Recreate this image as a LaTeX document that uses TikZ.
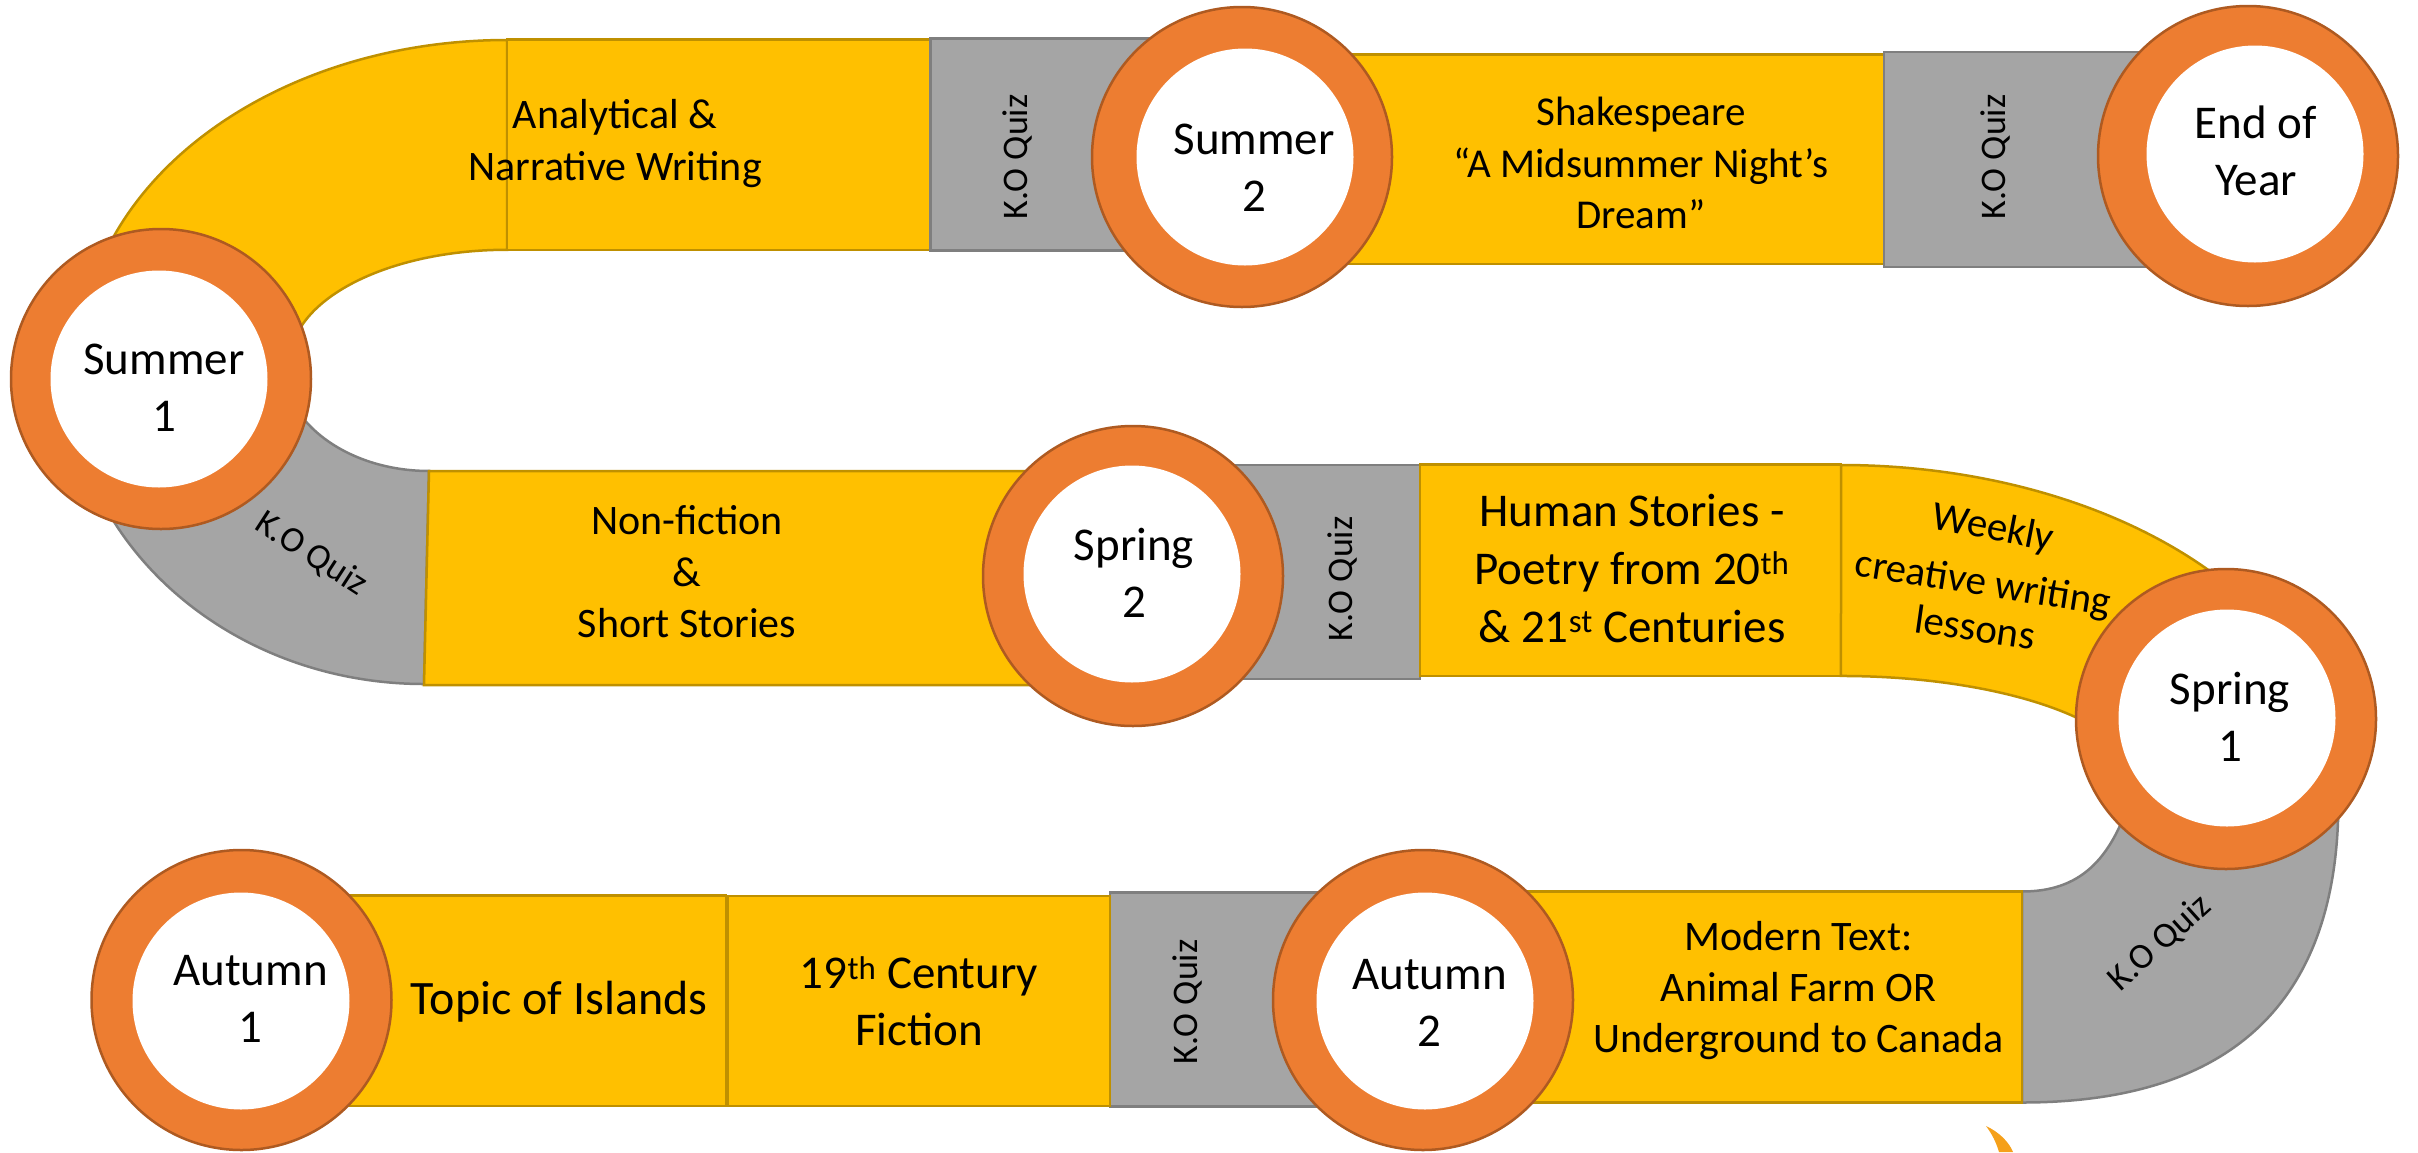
\documentclass[tikz,border=0pt]{standalone}
\usepackage{fontspec}
\setmainfont{Carlito}
\definecolor{yfill}{HTML}{FFC000}
\definecolor{yline}{HTML}{BF9000}
\definecolor{gfill}{HTML}{A5A5A5}
\definecolor{gline}{HTML}{7F7F7F}
\definecolor{ofill}{HTML}{ED7D31}
\definecolor{oline}{HTML}{AE5A21}
\definecolor{mark}{HTML}{F5A01A}
\begin{document}
\begin{tikzpicture}[x=1pt,y=-1pt,
  ybox/.style={fill=yfill,draw=yline,line width=2.5pt,line join=miter},
  gbox/.style={fill=gfill,draw=gline,line width=2.5pt,line join=miter},
  ring/.style={circle,fill=ofill,draw=oline,line width=2.5pt,minimum size=300pt,inner sep=0pt,outer sep=0pt},
  hole/.style={circle,fill=white,minimum size=217pt,inner sep=0pt,outer sep=0pt},
  stationtxt/.style={align=center,inner sep=0pt,font=\fontsize{47}{57}\selectfont},
  boxtxt/.style={align=center,inner sep=0pt,font=\fontsize{42}{51.5}\selectfont},
  bigtxt/.style={align=center,inner sep=0pt,font=\fontsize{47}{58}\selectfont},
  quiztxt/.style={inner sep=0pt,font=\fontsize{36}{43}\selectfont}]
\useasboundingbox (0,0) rectangle (2418,1152);

% ---------- top row ----------
\draw[ybox] (507,40) arc[start angle=-90,end angle=-170,x radius=427,y radius=322]
  -- (291,352) arc[start angle=-175,end angle=-90,x radius=217,y radius=112] -- cycle;
\draw[ybox] (507,39.5) rectangle (930.5,250);
\draw[gbox] (930.5,38.3) rectangle (1150,250.7);
\draw[ybox] (1300,54.3) rectangle (1884,264);
\draw[gbox] (1884,52) rectangle (2150,267);

% ---------- middle row ----------
\draw[gbox] (424,684) arc[start angle=90,end angle=160,x radius=357,y radius=322]
  -- (284.2,380.9) arc[start angle=170,end angle=90,x radius=147,y radius=109] -- cycle;
\draw[ybox] (429,471) -- (1200,471) -- (1200,685) -- (424,685) -- cycle;
\draw[gbox] (1200,465) rectangle (1420,679);
\draw[ybox] (1420,464.5) rectangle (1841,676);
\draw[ybox] (1841,465) arc[start angle=-90,end angle=-35,x radius=495,y radius=318.5]
  -- (2121,746.7) arc[start angle=-20,end angle=-90,x radius=298,y radius=107.5] -- cycle;

% ---------- bottom row ----------
\draw[gbox] (2022,1102.5) .. controls (2280,1102.5) and (2344,950) .. (2338,780)
  -- (2130,800) .. controls (2110,860) and (2080,891.5) .. (2022,891.5) -- cycle;
\draw[ybox] (1500,891.5) rectangle (2022,1102.5);
\draw[gbox] (1110,892.7) rectangle (1350,1106.7);
\draw[ybox] (728,896) rectangle (1110,1106);
\draw[ybox] (300,895.5) rectangle (726,1106);

% ---------- stations ----------
\node[ring] (r1) at (161,379) {};   \node[hole] (h1) at (159,379) {};
\node[ring] (r2) at (1242,157) {};  \node[hole] (h2) at (1245,157) {};
\node[ring] (r3) at (2248,156) {};  \node[hole] (h3) at (2255,154) {};
\node[ring] (r4) at (1133,576) {};  \node[hole] (h4) at (1132,574) {};
\node[ring] (r5) at (2226,719) {};  \node[hole] (h5) at (2227,718) {};
\node[ring] (r6) at (241.5,1000) {};\node[hole] (h6) at (241,1001) {};
\node[ring] (r7) at (1423,1000) {}; \node[hole] (h7) at (1425,1001) {};

% ---------- small mark ----------
\draw[fill=mark,draw=none] (1986,1126) .. controls (1999,1132) and (2009,1142) .. (2013,1152)
  -- (1999,1152) .. controls (1996,1142) and (1992,1134) .. cycle;

% ---------- texts ----------
\node[stationtxt] (t1) at (164,388) {Summer\\1};
\node[stationtxt] (t2) at (1254,168) {Summer\\2};
\node[stationtxt] (t3) at (2256,151) {End of\\Year};
\node[stationtxt] (t4) at (1134,573) {Spring\\2};
\node[stationtxt] (t5) at (2230,717) {Spring\\1};
\node[stationtxt] (t6) at (250.5,999) {Autumn\\1};
\node[stationtxt] (t7) at (1429.6,1002.5) {Autumn\\2};

\node[boxtxt] (b1) at (615,143.7) {Analytical \&\\Narrative Writing};
\node[boxtxt,font=\fontsize{41}{51.5}\selectfont] (b2) at (1641,163.4) {Shakespeare\\“A Midsummer Night’s\\Dream”};
\node[boxtxt] (b3) at (687,572) {Non-fiction\\\&\\Short Stories};
\node[bigtxt] (b4) at (1632,568) {Human Stories -\\Poetry from 20\textsuperscript{th}\\\& 21\textsuperscript{st} Centuries};
\node[boxtxt,font=\fontsize{41}{50}\selectfont,rotate=-11] (w1) at (1993,529) {Weekly};
\node[boxtxt,font=\fontsize{41}{50}\selectfont,rotate=-9] (w2) at (1983,585) {creative writing};
\node[boxtxt,font=\fontsize{41}{50}\selectfont,rotate=-8] (w3) at (1975,627) {lessons};
\node[boxtxt,font=\fontsize{48}{58}\selectfont] (b5) at (559,1002) {Topic of Islands};
\node[bigtxt,font=\fontsize{47}{57.5}\selectfont] (b6) at (919,1001) {19\textsuperscript{th} Century\\Fiction};
\node[boxtxt,font=\fontsize{42}{51}\selectfont] (b7) at (1798.6,991) {Modern Text:\\Animal Farm OR\\Underground to Canada};

\node[quiztxt,rotate=90] (q1) at (1017,157) {K.O Quiz};
\node[quiztxt,rotate=90] (q2) at (1995,157) {K.O Quiz};
\node[quiztxt,rotate=90] (q3) at (1342,579) {K.O Quiz};
\node[quiztxt,rotate=90] (q4) at (1187,1002) {K.O Quiz};
\node[quiztxt,rotate=-33] (q5) at (311,554) {K.O Quiz};
\node[quiztxt,rotate=42] (q6) at (2160,943) {K.O Quiz};
\end{tikzpicture}
\end{document}
